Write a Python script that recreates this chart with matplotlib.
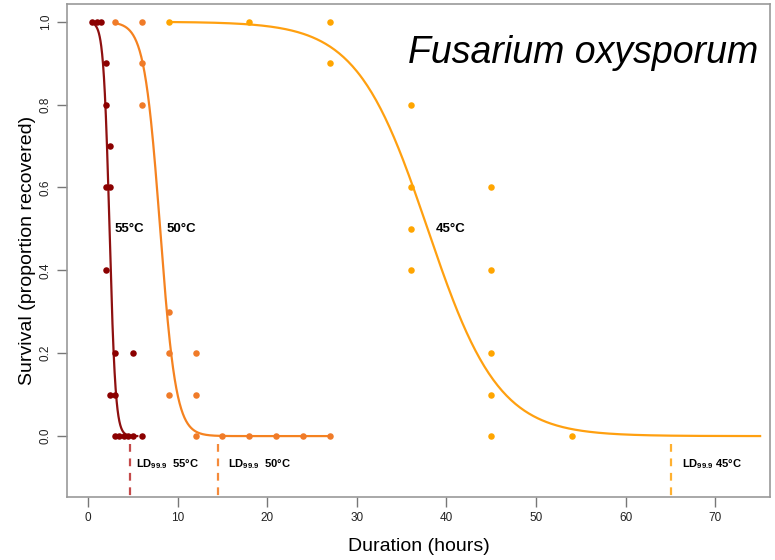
import numpy as np
import matplotlib
matplotlib.use("Agg")
import matplotlib.pyplot as plt

plt.rcParams['font.family'] = ['Liberation Sans', 'DejaVu Sans']
plt.rcParams['mathtext.fontset'] = 'custom'
plt.rcParams['mathtext.rm'] = 'Liberation Sans'
plt.rcParams['mathtext.bf'] = 'Liberation Sans:bold'

# ---- data ----
t55 = [0.5, 1, 1.5, 2, 2, 2.5, 2, 2.5, 2, 3, 5, 2.5, 3, 3, 3.5, 4, 4.5, 5, 6]
s55 = [1.0, 1.0, 1.0, 0.9, 0.8, 0.7, 0.6, 0.6, 0.4, 0.2, 0.2, 0.1, 0.1, 0.0, 0.0, 0.0, 0.0, 0.0, 0.0]
t50 = [3, 6, 6, 6, 9, 9, 9, 12, 12, 12, 15, 18, 21, 24, 27]
s50 = [1.0, 1.0, 0.9, 0.8, 0.3, 0.2, 0.1, 0.2, 0.1, 0.0, 0.0, 0.0, 0.0, 0.0, 0.0]
t45 = [9, 18, 27, 27, 36, 36, 36, 36, 45, 45, 45, 45, 45, 54]
s45 = [1.0, 1.0, 1.0, 0.9, 0.8, 0.6, 0.5, 0.4, 0.6, 0.4, 0.2, 0.1, 0.0, 0.0]

# fitted logistic models: midpoint (x50), slope, fitted range
x50 = {'55': 2.4, '50': 8.05, '45': 37.9}
slope = {'55': 3.0, '50': 1.13, '45': 0.2526}
fit_range = {'55': (0.5, 5.5), '50': (3, 27), '45': (9, 75)}
ld999 = {'55': 4.68, '50': 14.5, '45': 65.1}

temp_labels = ['55°C', '50°C', '45°C']
xticks = [0, 10, 20, 30, 40, 50, 60, 70]
yticks = [0.0, 0.2, 0.4, 0.6, 0.8, 1.0]

col_pt = {'55': '#8B0000', '50': '#F07B28', '45': '#FFA500'}
col_ln = {'55': '#8E1010', '50': '#F58220', '45': '#FFA010'}
col_ld = {'55': '#C44A4A', '50': '#F58A3A', '45': '#FFB030'}

fig = plt.figure(figsize=(7.75, 5.6), dpi=100)
ax = fig.add_axes([0.0865, 0.1125, 0.907, 0.8805])

for key, t, s in [('45', t45, s45), ('50', t50, s50), ('55', t55, s55)]:
    lo, hi = fit_range[key]
    xx = np.linspace(lo, hi, 400)
    yy = 1.0 / (1.0 + np.exp(slope[key] * (xx - x50[key])))
    ax.plot(xx, yy, color=col_ln[key], lw=1.6, zorder=2)
    ax.scatter(t, s, s=22, color=col_pt[key], zorder=3, linewidths=0)
    ax.plot([ld999[key], ld999[key]], [-0.018, -0.2], color=col_ld[key],
            lw=1.6, ls=(0, (3.5, 3)), zorder=2)

ax.text(3.0, 0.5, temp_labels[0], fontsize=9.5, fontweight='bold', va='center', ha='left')
ax.text(8.8, 0.5, temp_labels[1], fontsize=9.5, fontweight='bold', va='center', ha='left')
ax.text(38.8, 0.5, temp_labels[2], fontsize=9.5, fontweight='bold', va='center', ha='left')

ax.text(5.35, -0.068, r'$\mathbf{LD}_{\mathbf{99.9}}$  55°C', fontsize=8, fontweight='bold', va='center', ha='left')
ax.text(15.6, -0.068, r'$\mathbf{LD}_{\mathbf{99.9}}$  50°C', fontsize=8, fontweight='bold', va='center', ha='left')
ax.text(66.3, -0.068, r'$\mathbf{LD}_{\mathbf{99.9}}$ 45°C', fontsize=8, fontweight='bold', va='center', ha='left')

ax.text(0.983, 0.9, 'Fusarium oxysporum', transform=ax.transAxes, fontsize=27,
        fontstyle='italic', ha='right', va='center')

ax.set_xlim(-2.34, 76.1)
ax.set_ylim(-0.147, 1.043)
ax.set_xticks(xticks)
ax.set_yticks(yticks)
ax.set_yticklabels(['%.1f' % v for v in yticks], rotation=90, va='center')
ax.tick_params(axis='both', colors='#777777', labelcolor='#222222', labelsize=8.5,
               length=7, width=1, direction='out')
ax.tick_params(axis='x', pad=4)
ax.tick_params(axis='y', pad=4)
for sp in ax.spines.values():
    sp.set_color('#999999')
    sp.set_linewidth(1.2)

ax.set_xlabel('Duration (hours)', fontsize=14, labelpad=10)
ax.set_ylabel('Survival (proportion recovered)', fontsize=14, labelpad=3)

fig.savefig('out.png', dpi=100)
